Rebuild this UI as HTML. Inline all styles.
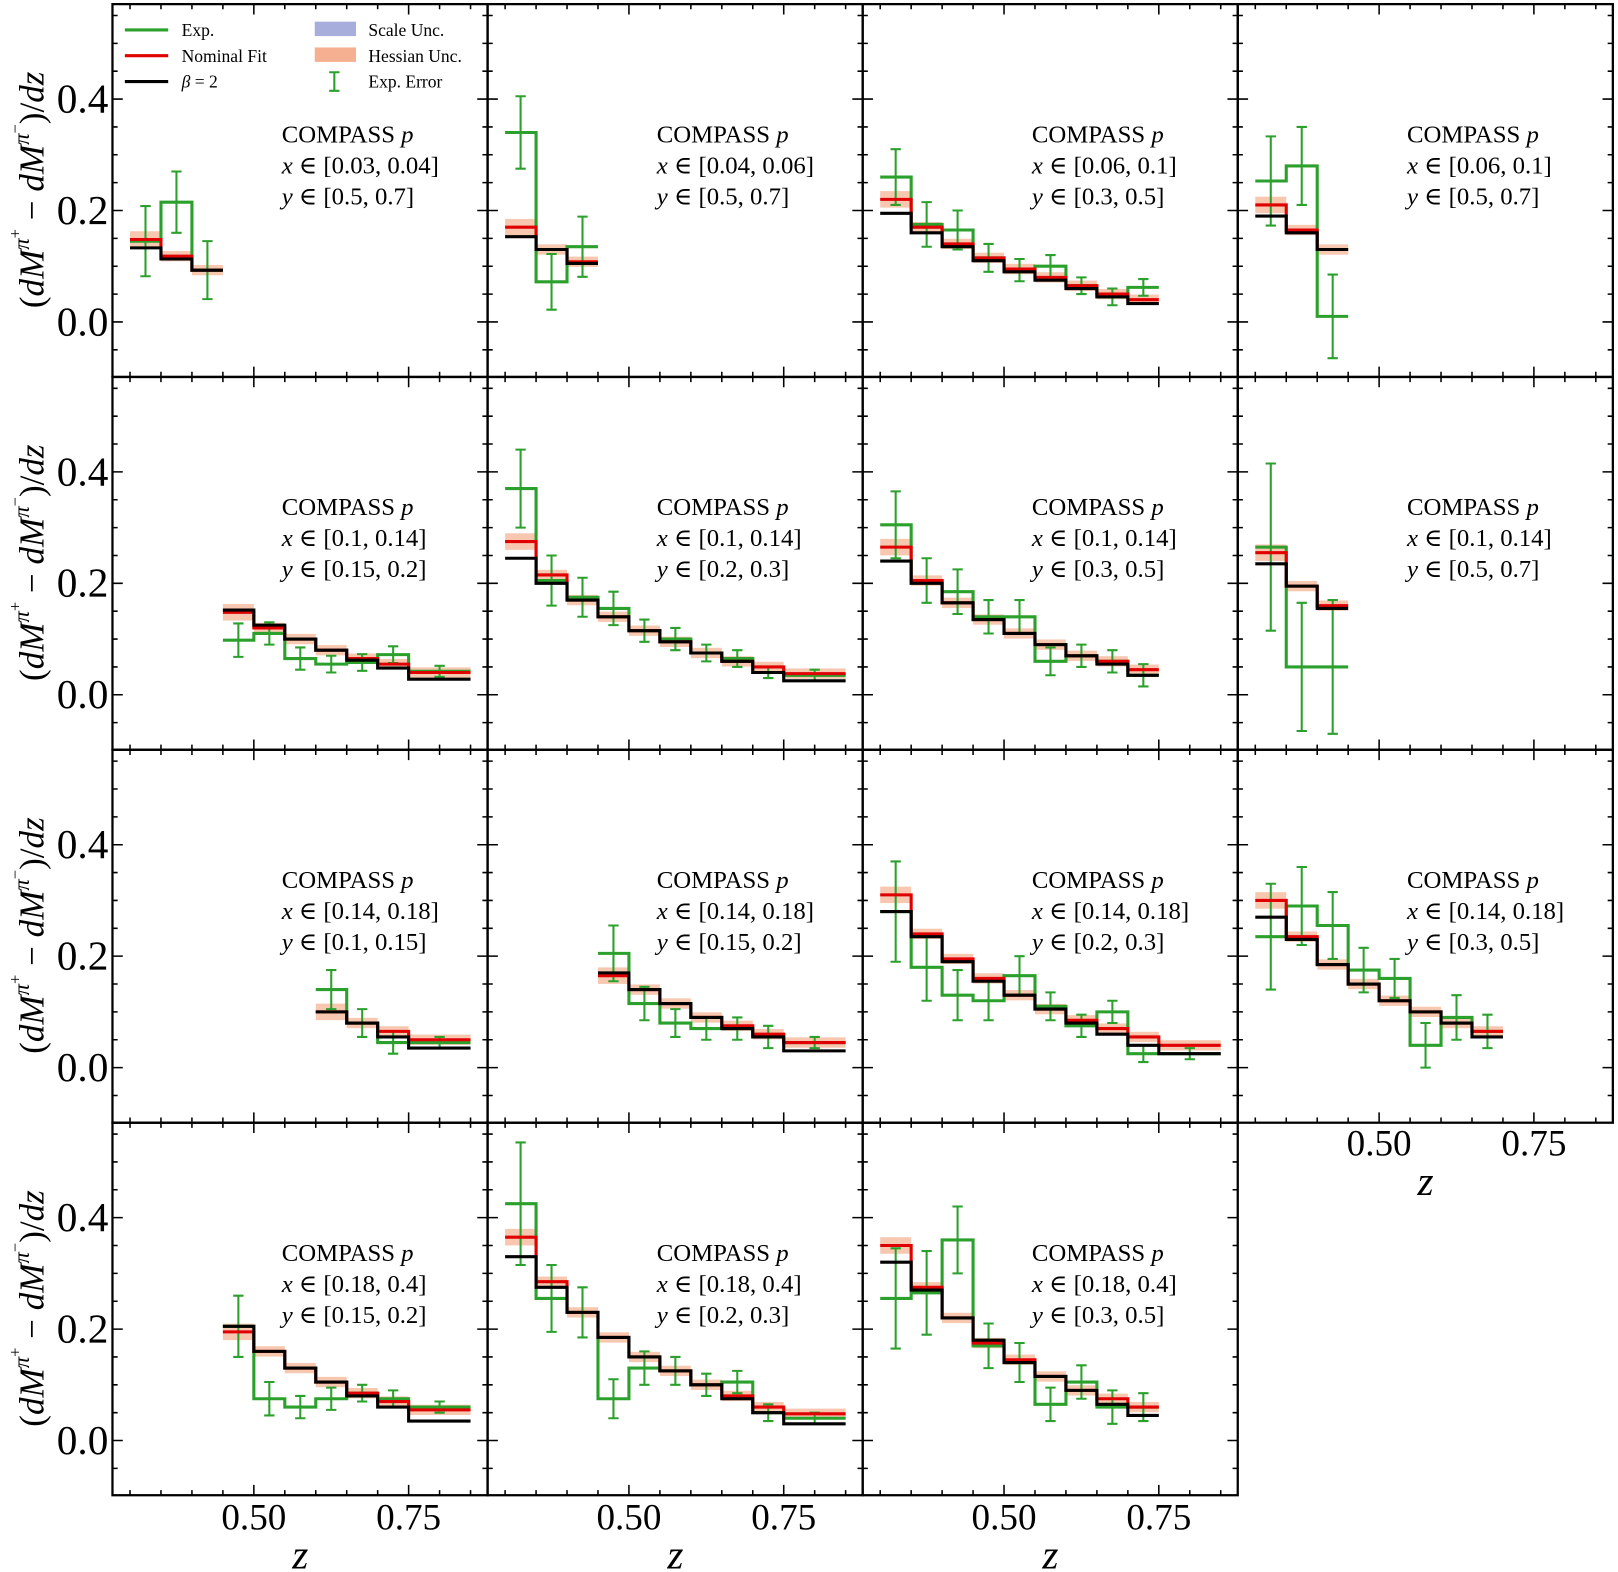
<!DOCTYPE html>
<html><head><meta charset="utf-8"><style>
html,body{margin:0;padding:0;background:#fff;}
svg{display:block;font-family:"Liberation Serif","DejaVu Serif",serif;}
</style></head><body>
<svg id="s" width="1618" height="1572" viewBox="0 0 1568 1523.4" preserveAspectRatio="none" xmlns="http://www.w3.org/2000/svg"></svg>
<script>
const S=document.getElementById('s');let h='';
const L=[109,472.5,836,1199.5,1563], T=[4,365.3,726.6,1088,1449];
const edges=[0.30,0.35,0.40,0.45,0.50,0.55,0.60,0.65,0.70,0.75,0.85];
function X(c,z){return L[c]+137+(z-0.5)*600;}
function Y(r,v){return T[r]+308-v*540;}
const P=[
[0,0,0,[0.145,0.215,0.093],[0.063,0.055,0.052],[0.148,0.118,0.093],[0.133,0.113,0.093],"[0.03, 0.04]","[0.5, 0.7]"],
[0,1,0,[0.34,0.072,0.135],[0.065,0.05,0.054],[0.17,0.13,0.108],[0.153,0.13,0.105],"[0.04, 0.06]","[0.5, 0.7]"],
[0,2,0,[0.26,0.175,0.165,0.115,0.093,0.10,0.065,0.045,0.062],[0.05,0.04,0.035,0.025,0.02,0.02,0.015,0.015,0.015],[0.22,0.17,0.14,0.115,0.095,0.08,0.065,0.05,0.04],[0.195,0.16,0.135,0.11,0.09,0.075,0.06,0.045,0.033],"[0.06, 0.1]","[0.3, 0.5]"],
[0,3,0,[0.253,0.28,0.01],[0.08,0.07,0.075],[0.21,0.165,0.13],[0.19,0.16,0.13],"[0.06, 0.1]","[0.5, 0.7]"],
[1,0,3,[0.098,0.11,0.065,0.055,0.058,0.072,0.042],[0.03,0.02,0.02,0.015,0.015,0.015,0.01],[0.148,0.12,0.1,0.08,0.065,0.055,0.04],[0.152,0.125,0.1,0.08,0.062,0.048,0.028],"[0.1, 0.14]","[0.15, 0.2]"],
[1,1,0,[0.37,0.205,0.175,0.155,0.115,0.1,0.075,0.065,0.04,0.035],[0.07,0.045,0.035,0.03,0.02,0.02,0.015,0.015,0.01,0.01],[0.275,0.215,0.17,0.14,0.115,0.095,0.075,0.06,0.05,0.038],[0.245,0.2,0.17,0.14,0.115,0.095,0.075,0.06,0.04,0.025],"[0.1, 0.14]","[0.2, 0.3]"],
[1,2,0,[0.305,0.205,0.185,0.14,0.14,0.06,0.07,0.06,0.035],[0.06,0.04,0.04,0.03,0.03,0.025,0.02,0.02,0.02],[0.265,0.205,0.165,0.135,0.11,0.09,0.07,0.06,0.045],[0.24,0.2,0.165,0.135,0.11,0.09,0.07,0.055,0.035],"[0.1, 0.14]","[0.3, 0.5]"],
[1,3,0,[0.265,0.05,0.05],[0.15,0.115,0.12],[0.255,0.195,0.16],[0.235,0.195,0.155],"[0.1, 0.14]","[0.5, 0.7]"],
[2,0,6,[0.14,0.08,0.045,0.045],[0.035,0.025,0.02,0.01],[0.1,0.08,0.065,0.05],[0.1,0.08,0.055,0.035],"[0.14, 0.18]","[0.1, 0.15]"],
[2,1,3,[0.205,0.115,0.08,0.07,0.07,0.055,0.045],[0.05,0.03,0.025,0.02,0.02,0.02,0.01],[0.165,0.14,0.115,0.09,0.075,0.06,0.045],[0.17,0.14,0.115,0.09,0.07,0.055,0.03],"[0.14, 0.18]","[0.15, 0.2]"],
[2,2,0,[0.28,0.18,0.13,0.12,0.165,0.11,0.075,0.1,0.025,0.025],[0.09,0.06,0.045,0.035,0.035,0.025,0.02,0.02,0.015,0.01],[0.31,0.24,0.195,0.16,0.13,0.105,0.085,0.07,0.055,0.04],[0.28,0.235,0.19,0.155,0.13,0.105,0.08,0.06,0.04,0.025],"[0.14, 0.18]","[0.2, 0.3]"],
[2,3,0,[0.235,0.29,0.255,0.175,0.16,0.04,0.09,0.065],[0.095,0.07,0.06,0.04,0.035,0.04,0.04,0.03],[0.3,0.235,0.185,0.15,0.12,0.1,0.08,0.065],[0.27,0.23,0.185,0.15,0.12,0.1,0.08,0.055],"[0.14, 0.18]","[0.3, 0.5]"],
[3,0,3,[0.205,0.075,0.06,0.075,0.085,0.075,0.06],[0.055,0.03,0.02,0.02,0.015,0.015,0.01],[0.195,0.16,0.13,0.105,0.085,0.07,0.055],[0.205,0.16,0.13,0.105,0.08,0.06,0.035],"[0.18, 0.4]","[0.15, 0.2]"],
[3,1,0,[0.425,0.255,0.23,0.075,0.13,0.125,0.1,0.105,0.05,0.04],[0.11,0.06,0.045,0.035,0.03,0.025,0.02,0.02,0.015,0.01],[0.365,0.285,0.23,0.185,0.15,0.125,0.1,0.08,0.06,0.048],[0.33,0.275,0.23,0.185,0.15,0.125,0.1,0.075,0.05,0.03],"[0.18, 0.4]","[0.2, 0.3]"],
[3,2,0,[0.255,0.265,0.36,0.17,0.14,0.065,0.105,0.06,0.06],[0.09,0.075,0.06,0.04,0.035,0.03,0.03,0.03,0.025],[0.35,0.275,0.22,0.175,0.145,0.115,0.09,0.075,0.06],[0.32,0.27,0.22,0.18,0.14,0.115,0.09,0.065,0.045],"[0.18, 0.4]","[0.3, 0.5]"]
];
function step(r,c,s,vals,col,w){let d='';vals.forEach((v,i)=>{const x0=X(c,edges[s+i]),x1=X(c,edges[s+i+1]),y=Y(r,v);d+=(i?'L':'M')+x0.toFixed(1)+' '+y.toFixed(1)+'L'+x1.toFixed(1)+' '+y.toFixed(1);});return `<path d="${d}" fill="none" stroke="${col}" stroke-width="${w}"/>`;}
P.forEach(p=>{const [r,c,s,e,er,f,b,xs,ys]=p;
 f.forEach((v,i)=>{const x0=X(c,edges[s+i]),x1=X(c,edges[s+i+1]);const hh=i==0?16:10;h+=`<rect x="${x0}" y="${Y(r,v)-hh/2}" width="${x1-x0}" height="${hh}" fill="#f2a27c" opacity="0.6"/>`;});
 h+=step(r,c,s,e,'#2ca02c',3);
 e.forEach((v,i)=>{const xm=X(c,(edges[s+i]+edges[s+i+1])/2),y0=Y(r,v+er[i]),y1=Y(r,v-er[i]);h+=`<path d="M${xm} ${y0}V${y1}M${xm-5} ${y0}h10M${xm-5} ${y1}h10" stroke="#2ca02c" stroke-width="2" fill="none"/>`;});
 h+=step(r,c,s,f,'#e00000',3);
 h+=step(r,c,s,b,'#000',3);
 const tx=L[c]+164,ty=T[r];
 h+=`<text x="${tx}" y="${ty+134}" font-size="24">COMPASS <tspan font-style="italic">p</tspan></text>`;
 h+=`<text x="${tx}" y="${ty+164}" font-size="24"><tspan font-style="italic">x</tspan> ∈ ${xs}</text>`;
 h+=`<text x="${tx}" y="${ty+194}" font-size="24"><tspan font-style="italic">y</tspan> ∈ ${ys}</text>`;
});
for(let r=0;r<4;r++)for(let c=0;c<4;c++){ if(r==3&&c==3)continue;
 const x0=L[c],x1=L[c+1],y0=T[r],y1=T[r+1];
 h+=`<rect x="${x0}" y="${y0}" width="${x1-x0}" height="${y1-y0}" fill="none" stroke="#000" stroke-width="2.2"/>`;
 let d='';
 for(let v=-0.05;v<=0.56;v+=0.05){const y=Y(r,v);if(y<y0+1||y>y1-1)continue;const maj=Math.abs(Math.round(v*100)%20)<1;const l=maj?10:5;d+=`M${x0} ${y}h${l}M${x1} ${y}h${-l}`;}
 for(let z=0.3;z<=0.86;z+=0.05){const x=X(c,z);if(x<x0+1||x>x1-1)continue;const zz=Math.round(z*100);const maj=zz==50||zz==75;const l=maj?10:5;d+=`M${x} ${y0}v${l}M${x} ${y1}v${-l}`;}
 h+=`<path d="${d}" stroke="#000" stroke-width="1.5" fill="none"/>`;
}
for(let r=0;r<4;r++){
 [[0,'0.0'],[0.2,'0.2'],[0.4,'0.4']].forEach(([v,t])=>{h+=`<text x="105" y="${Y(r,v)+13}" font-size="40" text-anchor="end">${t}</text>`;});
 const cy=T[r]+180;
 h+=`<text transform="translate(42 ${cy}) rotate(-90)" font-size="34" text-anchor="middle">(<tspan font-style="italic">dM</tspan><tspan font-style="italic" font-size="22" dy="-14">π</tspan><tspan font-size="16" dy="-8">+</tspan><tspan dy="22"> − </tspan><tspan font-style="italic">dM</tspan><tspan font-style="italic" font-size="22" dy="-14">π</tspan><tspan font-size="16" dy="-8">−</tspan><tspan dy="22">)/</tspan><tspan font-style="italic">dz</tspan></text>`;
}
function xl(c,yb){h+=`<text x="${X(c,0.5)}" y="${yb}" font-size="36" text-anchor="middle">0.50</text><text x="${X(c,0.75)}" y="${yb}" font-size="36" text-anchor="middle">0.75</text><text x="${X(c,0.575)}" y="${yb+38}" font-size="40" font-style="italic" text-anchor="middle">z</text>`;}
xl(0,1482);xl(1,1482);xl(2,1482);xl(3,1120);
h+=`<g font-size="17"><path d="M121 29h42" stroke="#2ca02c" stroke-width="3"/><text x="176" y="35">Exp.</text>
<path d="M121 54h42" stroke="#e00000" stroke-width="3"/><text x="176" y="60">Nominal Fit</text>
<path d="M121 79h42" stroke="#000" stroke-width="3"/><text x="176" y="85"><tspan font-style="italic">β</tspan> = 2</text>
<rect x="305" y="21" width="40" height="14" fill="#a8aedb"/><text x="357" y="35">Scale Unc.</text>
<rect x="305" y="46" width="40" height="14" fill="#f2a27c" opacity="0.85"/><text x="357" y="60">Hessian Unc.</text>
<path d="M324 70v18M319 70h10M319 88h10" stroke="#2ca02c" stroke-width="2"/><text x="357" y="85">Exp. Error</text></g>`;
S.innerHTML=h;
</script>
</body></html>
